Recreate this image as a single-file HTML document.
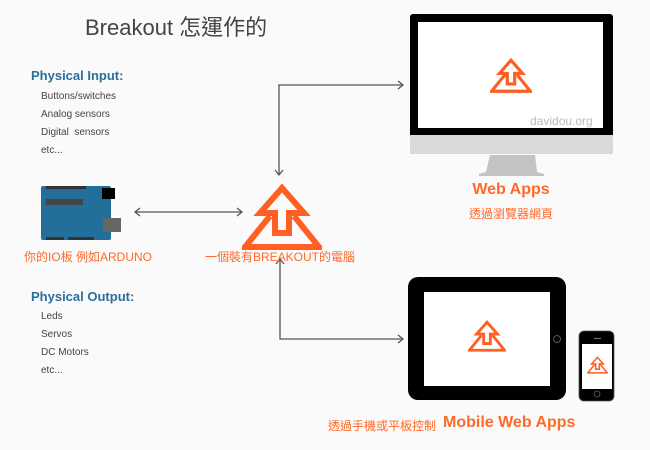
<!DOCTYPE html>
<html><head><meta charset="utf-8"><style>
html,body{margin:0;padding:0;background:#fafafa;}
body{width:650px;height:450px;overflow:hidden;position:relative;font-family:"Liberation Sans","Noto Sans CJK TC",sans-serif;}
.t{position:absolute;white-space:nowrap;}
.h{color:#2a6e9e;font-size:13px;font-weight:bold;}
.li{color:#444;font-size:10px;}
.o{color:#ff6a2a;}
</style></head><body>
<svg width="650" height="450" style="position:absolute;left:0;top:0">
<defs>
<symbol id="logo" viewBox="-40 -2 80 66">
<g fill="none" stroke="#ff5f22" stroke-width="6" stroke-linejoin="miter">
<path d="M-22,27 L0,2 L22,27 L7,27 L7,47 L-7,47 L-7,27 Z"/>
<path d="M-12,30 L-37,61 L37,61 L12,30"/>
</g>
</symbol>
</defs>
<g stroke="#555" stroke-width="1.3" fill="none">
<path d="M279,175 L279,85 L403,85"/>
<path d="M398,81 L403,85 L398,89"/>
<path d="M275,170 L279,175 L283,170"/>
<path d="M280,259 L280,339 L403,339"/>
<path d="M276,264 L280,259 L284,264"/>
<path d="M398,335 L403,339 L398,343"/>
<path d="M135,212 L242,212"/>
<path d="M140,208 L135,212 L140,216"/>
<path d="M237,208 L242,212 L237,216"/>
</g>
<rect x="41" y="186" width="70" height="54" rx="2" fill="#236f9c"/>
<rect x="46" y="186" width="18" height="3" fill="#333"/>
<rect x="64" y="186" width="22" height="3" fill="#333"/>
<rect x="102" y="188" width="13" height="11" fill="#000"/>
<rect x="46" y="199" width="37" height="6" fill="#444"/>
<rect x="103" y="218" width="18" height="14" fill="#666"/>
<rect x="46" y="237" width="18" height="3" fill="#333"/>
<rect x="68" y="237" width="26" height="3" fill="#333"/>
<use href="#logo" x="242" y="184" width="80" height="66"/>
<rect x="410" y="14" width="203" height="140" rx="3" fill="#000"/>
<rect x="410" y="135" width="203" height="19" rx="3" fill="#d8d9db"/>
<rect x="410" y="135" width="203" height="4" fill="#d8d9db"/>
<rect x="418" y="22" width="185" height="106" fill="#fff"/>
<path d="M490,155 L535,155 L537,172 L544,174 L544,176 L479,176 L479,174 L486,172 Z" fill="#c3c3c3"/>
<use href="#logo" x="490" y="58" width="42" height="35"/>
<rect x="408" y="277" width="158" height="123" rx="10" fill="#000"/>
<rect x="424" y="292" width="126" height="94" fill="#fff"/>
<circle cx="557" cy="339" r="3.5" fill="none" stroke="#555" stroke-width="1"/>
<use href="#logo" x="468" y="320" width="38" height="32"/>
<rect x="579" y="331" width="35" height="70" rx="5" fill="#000" stroke="#555" stroke-width="0.8"/>
<rect x="582" y="344" width="30" height="45" fill="#fff"/>
<rect x="594" y="338" width="7" height="1" fill="#777"/>
<circle cx="597" cy="394" r="3" fill="none" stroke="#666" stroke-width="0.8"/>
<use href="#logo" x="587" y="356" width="21" height="18"/>
</svg>
<div class="t" style="left:85px;top:10px;font-size:22px;color:#444;">Breakout 怎運作的</div>
<div class="t h" style="left:31px;top:68px;">Physical Input:</div>
<div class="t li" style="left:41px;top:91px;">Buttons/switches</div>
<div class="t li" style="left:41px;top:109px;">Analog sensors</div>
<div class="t li" style="left:41px;top:127px;">Digital&nbsp; sensors</div>
<div class="t li" style="left:41px;top:145px;">etc...</div>
<div class="t h" style="left:31px;top:289px;">Physical Output:</div>
<div class="t li" style="left:41px;top:311px;">Leds</div>
<div class="t li" style="left:41px;top:329px;">Servos</div>
<div class="t li" style="left:41px;top:347px;">DC Motors</div>
<div class="t li" style="left:41px;top:365px;">etc...</div>
<div class="t o" style="left:24px;top:248px;font-size:12px;">你的IO板 例如ARDUNO</div>
<div class="t o" style="left:205px;top:248px;font-size:12px;">一個裝有BREAKOUT的電腦</div>
<div class="t o" style="left:461px;top:181px;width:100px;text-align:center;font-size:16px;font-weight:bold;">Web Apps</div>
<div class="t o" style="left:461px;top:205px;width:100px;text-align:center;font-size:12px;">透過瀏覽器網頁</div>
<div class="t" style="left:530px;top:114px;font-size:12px;color:#bbb;">davidou.org</div>
<div class="t o" style="left:328px;top:417px;font-size:12px;">透過手機或平板控制</div>
<div class="t o" style="left:443px;top:414px;font-size:16px;font-weight:bold;">Mobile Web Apps</div>
</body></html>
